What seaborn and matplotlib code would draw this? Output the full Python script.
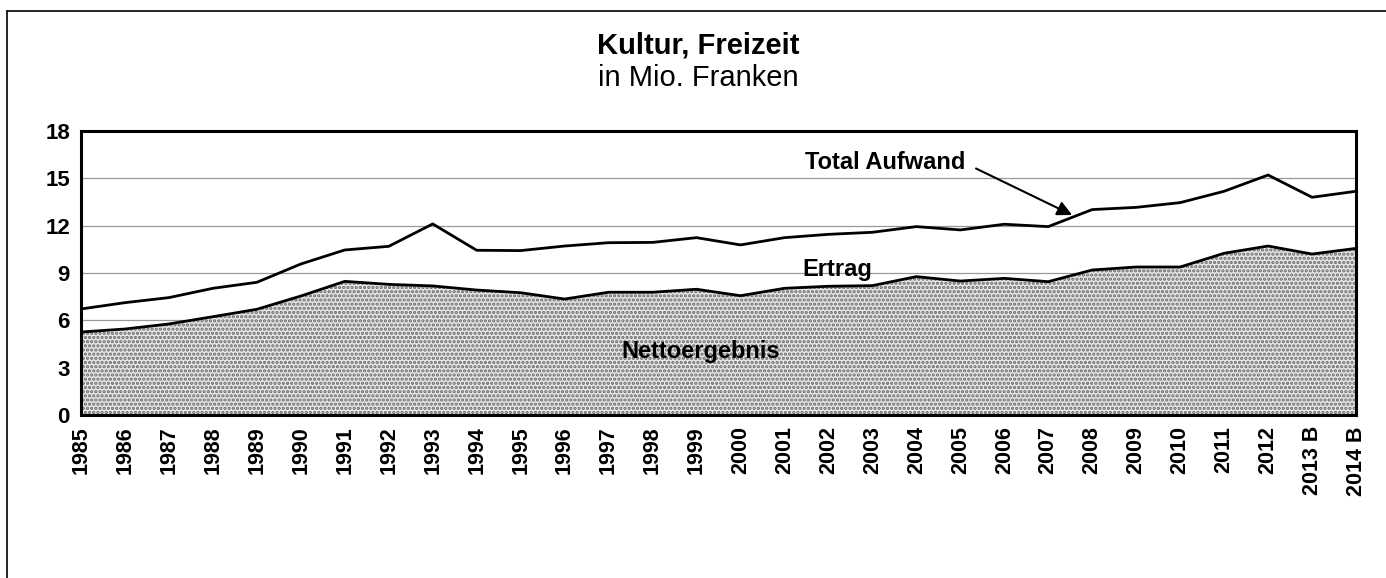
import matplotlib
matplotlib.use("Agg")
import matplotlib.pyplot as plt
from matplotlib.lines import Line2D
import seaborn as sns
import pandas as pd
import numpy as np

years = ["1985", "1986", "1987", "1988", "1989", "1990", "1991", "1992", "1993", "1994",
         "1995", "1996", "1997", "1998", "1999", "2000", "2001", "2002", "2003", "2004",
         "2005", "2006", "2007", "2008", "2009", "2010", "2011", "2012", "2013 B", "2014 B"]
total_aufwand = [6.72, 7.12, 7.44, 8.03, 8.41, 9.57, 10.46, 10.69, 12.11, 10.44,
                 10.42, 10.71, 10.92, 10.94, 11.24, 10.78, 11.24, 11.45, 11.58, 11.94,
                 11.73, 12.09, 11.94, 13.02, 13.16, 13.46, 14.18, 15.21, 13.80, 14.18]
nettoergebnis = [5.26, 5.45, 5.77, 6.23, 6.70, 7.54, 8.47, 8.28, 8.18, 7.92,
                 7.75, 7.35, 7.78, 7.78, 7.97, 7.56, 8.03, 8.16, 8.20, 8.77,
                 8.49, 8.66, 8.45, 9.19, 9.38, 9.38, 10.25, 10.71, 10.20, 10.56]
yticks = [0, 3, 6, 9, 12, 15, 18]

sns.set_style("white")
plt.rcParams["font.family"] = ["Liberation Sans", "DejaVu Sans"]
plt.rcParams["text.color"] = "black"
plt.rcParams["xtick.labelcolor"] = "black"
plt.rcParams["ytick.labelcolor"] = "black"
plt.rcParams["hatch.color"] = "#6a6a6a"
plt.rcParams["hatch.linewidth"] = 1.6

df = pd.DataFrame({"idx": np.arange(len(years)), "total": total_aufwand, "netto": nettoergebnis})

fig = plt.figure(figsize=(13.86, 5.78), dpi=100)
ax = fig.add_axes([81 / 1386, 1 - 415 / 578, (1356 - 81) / 1386, (415 - 131) / 578])

for y in yticks[1:-1]:
    ax.axhline(y, color="#999999", lw=0.9, zorder=0)

ax.fill_between(df["idx"], 0, df["netto"], facecolor="#e6e6e6", hatch="....",
                edgecolor="#6a6a6a", linewidth=0, zorder=1)
sns.lineplot(data=df, x="idx", y="netto", ax=ax, color="black", lw=2.0, zorder=3)
sns.lineplot(data=df, x="idx", y="total", ax=ax, color="black", lw=2.0, zorder=3)

ax.set_xlim(0, len(years) - 1)
ax.set_ylim(0, 18)
ax.set_xticks(df["idx"])
ax.set_xticklabels(years, rotation=90, fontsize=15.5, fontweight="bold", va="top")
ax.set_yticks(yticks)
ax.set_yticklabels([str(v) for v in yticks], fontsize=16, fontweight="bold")
ax.tick_params(axis="both", direction="out", length=5, width=0.8, color="#555555", pad=3)
ax.set_xlabel("")
ax.set_ylabel("")
for s in ax.spines.values():
    s.set_linewidth(2.2)
    s.set_color("black")

ax.text(18.3, 16.0, "Total Aufwand", ha="center", va="center", fontsize=17, fontweight="bold")
ax.annotate("", xy=(22.6, 12.6), xytext=(20.3, 15.7),
            arrowprops=dict(arrowstyle="-|>", color="black", lw=1.5, mutation_scale=22))
ax.text(17.2, 9.25, "Ertrag", ha="center", va="center", fontsize=17, fontweight="bold")
ax.text(14.1, 4.0, "Nettoergebnis", ha="center", va="center", fontsize=17, fontweight="bold", zorder=4)

fig.text(0.504, 1 - 46 / 578, "Kultur, Freizeit", ha="center", va="center", fontsize=21, fontweight="bold")
fig.text(0.504, 1 - 78 / 578, "in Mio. Franken", ha="center", va="center", fontsize=21)

# frame (top and left edge only, like the cropped original)
fig.add_artist(Line2D([7 / 1386, 1], [1 - 11 / 578, 1 - 11 / 578], transform=fig.transFigure, color="black", lw=1.2))
fig.add_artist(Line2D([7 / 1386, 7 / 1386], [0, 1 - 11 / 578], transform=fig.transFigure, color="black", lw=1.2))

fig.savefig("out.png", dpi=100)
plt.close(fig)
